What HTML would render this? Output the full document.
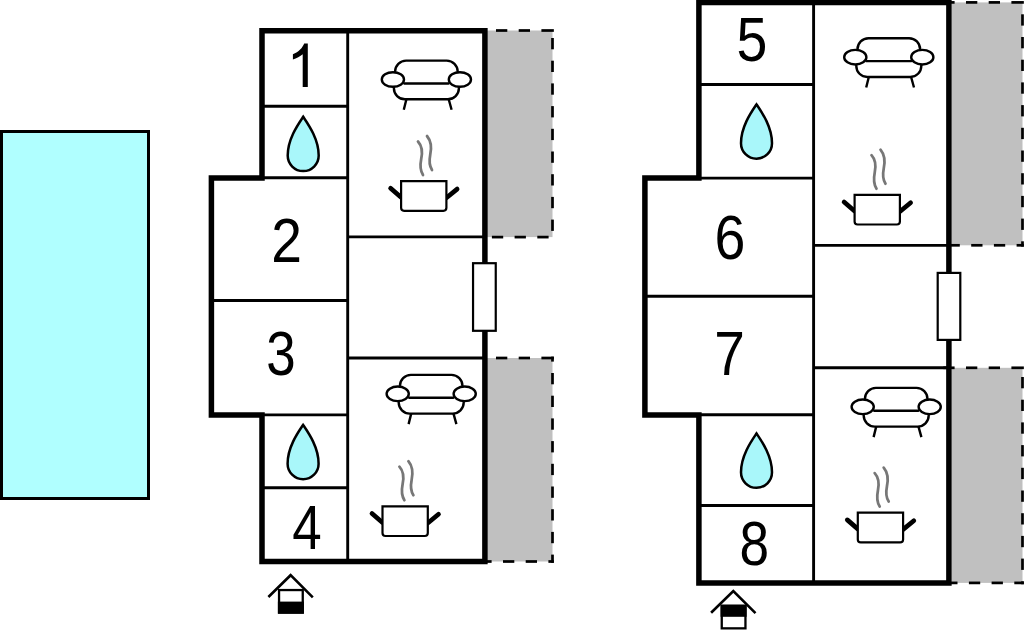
<!DOCTYPE html>
<html><head><meta charset="utf-8"><style>
html,body{margin:0;padding:0;background:#fff;width:1024px;height:630px;overflow:hidden}
svg{display:block}
</style></head><body>
<svg width="1024" height="630" viewBox="0 0 1024 630">
<rect width="1024" height="630" fill="#fff"/>
<rect x="1.5" y="131.5" width="147" height="367" fill="#B0FFFF" stroke="#000" stroke-width="3"/>
<rect x="487" y="30.5" width="65.5" height="206.6" fill="#C0C0C0"/><rect x="496.00" y="29.15" width="11.30" height="2.7" fill="#000"/><rect x="518.70" y="29.15" width="11.30" height="2.7" fill="#000"/><rect x="541.40" y="29.15" width="12.45" height="2.7" fill="#000"/><rect x="491.90" y="235.75" width="11.30" height="2.7" fill="#000"/><rect x="514.60" y="235.75" width="11.30" height="2.7" fill="#000"/><rect x="537.30" y="235.75" width="11.30" height="2.7" fill="#000"/><rect x="551.15" y="38.00" width="2.7" height="11.30" fill="#000"/><rect x="551.15" y="60.70" width="2.7" height="11.30" fill="#000"/><rect x="551.15" y="83.40" width="2.7" height="11.30" fill="#000"/><rect x="551.15" y="106.10" width="2.7" height="11.30" fill="#000"/><rect x="551.15" y="128.80" width="2.7" height="11.30" fill="#000"/><rect x="551.15" y="151.50" width="2.7" height="11.30" fill="#000"/><rect x="551.15" y="174.20" width="2.7" height="11.30" fill="#000"/><rect x="551.15" y="196.90" width="2.7" height="11.30" fill="#000"/><rect x="551.15" y="219.60" width="2.7" height="11.30" fill="#000"/>
<rect x="487" y="358" width="65.5" height="203.5" fill="#C0C0C0"/><rect x="496.00" y="356.65" width="11.30" height="2.7" fill="#000"/><rect x="518.70" y="356.65" width="11.30" height="2.7" fill="#000"/><rect x="541.40" y="356.65" width="12.45" height="2.7" fill="#000"/><rect x="480.30" y="560.15" width="11.30" height="2.7" fill="#000"/><rect x="503.00" y="560.15" width="11.30" height="2.7" fill="#000"/><rect x="525.70" y="560.15" width="11.30" height="2.7" fill="#000"/><rect x="548.40" y="560.15" width="5.45" height="2.7" fill="#000"/><rect x="551.15" y="356.65" width="2.7" height="4.95" fill="#000"/><rect x="551.15" y="373.00" width="2.7" height="11.30" fill="#000"/><rect x="551.15" y="395.70" width="2.7" height="11.30" fill="#000"/><rect x="551.15" y="418.40" width="2.7" height="11.30" fill="#000"/><rect x="551.15" y="441.10" width="2.7" height="11.30" fill="#000"/><rect x="551.15" y="463.80" width="2.7" height="11.30" fill="#000"/><rect x="551.15" y="486.50" width="2.7" height="11.30" fill="#000"/><rect x="551.15" y="509.20" width="2.7" height="11.30" fill="#000"/><rect x="551.15" y="531.90" width="2.7" height="11.30" fill="#000"/><rect x="551.15" y="554.60" width="2.7" height="8.25" fill="#000"/>
<g stroke="#000" stroke-width="2.9" fill="none">
<path d="M347.7,30 V561"/>
<path d="M262,106.3 H347.7"/>
<path d="M262,177.8 H347.7"/>
<path d="M262,414.9 H347.7"/>
<path d="M262,487.8 H347.7"/>
<path d="M211.4,300.5 H347.7"/>
<path d="M347.7,236.9 H485"/>
<path d="M347.7,358 H485"/>
</g>
<path d="M262,30.7 H484.9 V561.5 H262 V414.9 H211.4 V177.9 H262 Z" fill="none" stroke="#000" stroke-width="5.5" stroke-linejoin="miter"/>
<rect x="473.05" y="263.2" width="22.7" height="67.6" fill="#fff" stroke="#000" stroke-width="2.2"/>
<rect x="951.6" y="2.4" width="70.89999999999998" height="242.9" fill="#C0C0C0"/><rect x="943.30" y="1.05" width="11.30" height="2.7" fill="#000"/><rect x="966.00" y="1.05" width="11.30" height="2.7" fill="#000"/><rect x="988.70" y="1.05" width="11.30" height="2.7" fill="#000"/><rect x="1011.40" y="1.05" width="12.45" height="2.7" fill="#000"/><rect x="948.50" y="243.95" width="11.30" height="2.7" fill="#000"/><rect x="971.20" y="243.95" width="11.30" height="2.7" fill="#000"/><rect x="993.90" y="243.95" width="11.30" height="2.7" fill="#000"/><rect x="1016.60" y="243.95" width="7.25" height="2.7" fill="#000"/><rect x="1021.15" y="14.30" width="2.7" height="11.30" fill="#000"/><rect x="1021.15" y="37.00" width="2.7" height="11.30" fill="#000"/><rect x="1021.15" y="59.70" width="2.7" height="11.30" fill="#000"/><rect x="1021.15" y="82.40" width="2.7" height="11.30" fill="#000"/><rect x="1021.15" y="105.10" width="2.7" height="11.30" fill="#000"/><rect x="1021.15" y="127.80" width="2.7" height="11.30" fill="#000"/><rect x="1021.15" y="150.50" width="2.7" height="11.30" fill="#000"/><rect x="1021.15" y="173.20" width="2.7" height="11.30" fill="#000"/><rect x="1021.15" y="195.90" width="2.7" height="11.30" fill="#000"/><rect x="1021.15" y="218.60" width="2.7" height="11.30" fill="#000"/><rect x="1021.15" y="241.30" width="2.7" height="5.35" fill="#000"/>
<rect x="951.6" y="367.8" width="70.89999999999998" height="215.09999999999997" fill="#C0C0C0"/><rect x="943.30" y="366.45" width="11.30" height="2.7" fill="#000"/><rect x="966.00" y="366.45" width="11.30" height="2.7" fill="#000"/><rect x="988.70" y="366.45" width="11.30" height="2.7" fill="#000"/><rect x="1011.40" y="366.45" width="12.45" height="2.7" fill="#000"/><rect x="946.20" y="581.55" width="11.30" height="2.7" fill="#000"/><rect x="968.90" y="581.55" width="11.30" height="2.7" fill="#000"/><rect x="991.60" y="581.55" width="11.30" height="2.7" fill="#000"/><rect x="1014.30" y="581.55" width="9.55" height="2.7" fill="#000"/><rect x="1021.15" y="377.00" width="2.7" height="11.30" fill="#000"/><rect x="1021.15" y="399.70" width="2.7" height="11.30" fill="#000"/><rect x="1021.15" y="422.40" width="2.7" height="11.30" fill="#000"/><rect x="1021.15" y="445.10" width="2.7" height="11.30" fill="#000"/><rect x="1021.15" y="467.80" width="2.7" height="11.30" fill="#000"/><rect x="1021.15" y="490.50" width="2.7" height="11.30" fill="#000"/><rect x="1021.15" y="513.20" width="2.7" height="11.30" fill="#000"/><rect x="1021.15" y="535.90" width="2.7" height="11.30" fill="#000"/><rect x="1021.15" y="558.60" width="2.7" height="11.30" fill="#000"/><rect x="1021.15" y="581.30" width="2.7" height="2.95" fill="#000"/>
<g stroke="#000" stroke-width="2.9" fill="none">
<path d="M813.6,2 V582"/>
<path d="M699,84.5 H813.6"/>
<path d="M699,178.1 H813.6"/>
<path d="M699,414.7 H813.6"/>
<path d="M699,505.5 H813.6"/>
<path d="M644.9,296.3 H813.6"/>
<path d="M813.6,245.4 H948.9"/>
<path d="M813.6,367.8 H948.9"/>
</g>
<path d="M698.9,2.5 H948.9 V582.9 H698.9 V414.9 H644.9 V177.9 H698.9 Z" fill="none" stroke="#000" stroke-width="5.5" stroke-linejoin="miter"/>
<rect x="937.7" y="272.9" width="22.6" height="67" fill="#fff" stroke="#000" stroke-width="2.2"/>
<g fill="none" stroke="#000" stroke-width="2.4" stroke-linecap="round"><path d="M395.10,73.50 V71.60 A11,11 0 0 1 406.10,60.60 H446.70 A11,11 0 0 1 457.70,71.60 V73.50"/><path d="M393.90,85.50 V88.30 A11,11 0 0 0 404.90,99.30 H447.90 A11,11 0 0 0 458.90,88.30 V85.50"/><path d="M404.40,83.50 H448.40"/><path d="M406.40,99.30 L403.80,109.80 M448.70,99.30 L451.60,109.80" stroke-linecap="butt"/><ellipse cx="392.90" cy="79.50" rx="11.1" ry="7.3" fill="#fff"/><ellipse cx="459.90" cy="79.50" rx="11.1" ry="7.3" fill="#fff"/></g>
<g fill="none" stroke="#000" stroke-width="2.4" stroke-linecap="round"><path d="M399.90,387.80 V385.90 A11,11 0 0 1 410.90,374.90 H451.50 A11,11 0 0 1 462.50,385.90 V387.80"/><path d="M398.70,399.80 V402.60 A11,11 0 0 0 409.70,413.60 H452.70 A11,11 0 0 0 463.70,402.60 V399.80"/><path d="M409.20,397.80 H453.20"/><path d="M411.20,413.60 L408.60,424.10 M453.50,413.60 L456.40,424.10" stroke-linecap="butt"/><ellipse cx="397.70" cy="393.80" rx="11.1" ry="7.3" fill="#fff"/><ellipse cx="464.70" cy="393.80" rx="11.1" ry="7.3" fill="#fff"/></g>
<g fill="none" stroke="#000" stroke-width="2.4" stroke-linecap="round"><path d="M857.50,51.15 V49.25 A11,11 0 0 1 868.50,38.25 H909.10 A11,11 0 0 1 920.10,49.25 V51.15"/><path d="M856.30,63.15 V65.95 A11,11 0 0 0 867.30,76.95 H910.30 A11,11 0 0 0 921.30,65.95 V63.15"/><path d="M866.80,61.15 H910.80"/><path d="M868.80,76.95 L866.20,87.45 M911.10,76.95 L914.00,87.45" stroke-linecap="butt"/><ellipse cx="855.30" cy="57.15" rx="11.1" ry="7.3" fill="#fff"/><ellipse cx="922.30" cy="57.15" rx="11.1" ry="7.3" fill="#fff"/></g>
<g fill="none" stroke="#000" stroke-width="2.4" stroke-linecap="round"><path d="M864.90,400.80 V398.90 A11,11 0 0 1 875.90,387.90 H916.50 A11,11 0 0 1 927.50,398.90 V400.80"/><path d="M863.70,412.80 V415.60 A11,11 0 0 0 874.70,426.60 H917.70 A11,11 0 0 0 928.70,415.60 V412.80"/><path d="M874.20,410.80 H918.20"/><path d="M876.20,426.60 L873.60,437.10 M918.50,426.60 L921.40,437.10" stroke-linecap="butt"/><ellipse cx="862.70" cy="406.80" rx="11.1" ry="7.3" fill="#fff"/><ellipse cx="929.70" cy="406.80" rx="11.1" ry="7.3" fill="#fff"/></g>
<g transform="translate(400.00,180.00)"><path d="M18,-38.5 C23,-33 22.5,-27 21.2,-21 C20,-15 20.5,-9 23,-5 M27,-44 C32,-38 31.5,-31 30.2,-25 C29,-19 29.5,-14 32,-10" fill="none" stroke="#777" stroke-width="2.75" stroke-linecap="round"/><path d="M-9.4,8.3 L1,17.3 M57.1,9.1 L46.5,17.8" stroke="#000" stroke-width="4.7" stroke-linecap="round"/><path d="M1.1,1.1 H46.4 V27.8 A3,3 0 0 1 43.4,30.8 H4.1 A3,3 0 0 1 1.1,27.8 Z" fill="#fff" stroke="#000" stroke-width="2.2"/></g>
<g transform="translate(381.40,505.20)"><path d="M18,-38.5 C23,-33 22.5,-27 21.2,-21 C20,-15 20.5,-9 23,-5 M27,-44 C32,-38 31.5,-31 30.2,-25 C29,-19 29.5,-14 32,-10" fill="none" stroke="#777" stroke-width="2.75" stroke-linecap="round"/><path d="M-9.4,8.3 L1,17.3 M57.1,9.1 L46.5,17.8" stroke="#000" stroke-width="4.7" stroke-linecap="round"/><path d="M1.1,1.1 H46.4 V27.8 A3,3 0 0 1 43.4,30.8 H4.1 A3,3 0 0 1 1.1,27.8 Z" fill="#fff" stroke="#000" stroke-width="2.2"/></g>
<g transform="translate(853.50,193.70)"><path d="M18,-38.5 C23,-33 22.5,-27 21.2,-21 C20,-15 20.5,-9 23,-5 M27,-44 C32,-38 31.5,-31 30.2,-25 C29,-19 29.5,-14 32,-10" fill="none" stroke="#777" stroke-width="2.75" stroke-linecap="round"/><path d="M-9.4,8.3 L1,17.3 M57.1,9.1 L46.5,17.8" stroke="#000" stroke-width="4.7" stroke-linecap="round"/><path d="M1.1,1.1 H46.4 V27.8 A3,3 0 0 1 43.4,30.8 H4.1 A3,3 0 0 1 1.1,27.8 Z" fill="#fff" stroke="#000" stroke-width="2.2"/></g>
<g transform="translate(856.70,511.60)"><path d="M18,-38.5 C23,-33 22.5,-27 21.2,-21 C20,-15 20.5,-9 23,-5 M27,-44 C32,-38 31.5,-31 30.2,-25 C29,-19 29.5,-14 32,-10" fill="none" stroke="#777" stroke-width="2.75" stroke-linecap="round"/><path d="M-9.4,8.3 L1,17.3 M57.1,9.1 L46.5,17.8" stroke="#000" stroke-width="4.7" stroke-linecap="round"/><path d="M1.1,1.1 H46.4 V27.8 A3,3 0 0 1 43.4,30.8 H4.1 A3,3 0 0 1 1.1,27.8 Z" fill="#fff" stroke="#000" stroke-width="2.2"/></g>
<g transform="translate(303.20,115.00)"><path d="M0,1.8 C5,9.2 15.5,24 15.5,40.6 A15.5,15.5 0 0 1 -15.5,40.6 C-15.5,24 -5,9.2 0,1.8 Z" fill="#A9F7FA" stroke="#000" stroke-width="2.5" stroke-linejoin="miter"/></g>
<g transform="translate(303.10,423.10)"><path d="M0,1.8 C5,9.2 15.5,24 15.5,40.6 A15.5,15.5 0 0 1 -15.5,40.6 C-15.5,24 -5,9.2 0,1.8 Z" fill="#A9F7FA" stroke="#000" stroke-width="2.5" stroke-linejoin="miter"/></g>
<g transform="translate(756.50,102.60)"><path d="M0,1.8 C5,9.2 15.5,24 15.5,40.6 A15.5,15.5 0 0 1 -15.5,40.6 C-15.5,24 -5,9.2 0,1.8 Z" fill="#A9F7FA" stroke="#000" stroke-width="2.5" stroke-linejoin="miter"/></g>
<g transform="translate(756.50,431.70)"><path d="M0,1.8 C5,9.2 15.5,24 15.5,40.6 A15.5,15.5 0 0 1 -15.5,40.6 C-15.5,24 -5,9.2 0,1.8 Z" fill="#A9F7FA" stroke="#000" stroke-width="2.5" stroke-linejoin="miter"/></g>
<g transform="translate(290.60,574.00)"><path d="M-22.2,23 L0,1.2 L22.2,23.3" fill="none" stroke="#000" stroke-width="2.6"/><rect x="-11.55" y="16.05" width="23.7" height="22.5" fill="#fff" stroke="#000" stroke-width="2.3"/><rect x="-12.7" y="27.6" width="26" height="12.1" fill="#000"/></g>
<g transform="translate(733.30,589.80)"><path d="M-22.2,23 L0,1.2 L22.2,23.3" fill="none" stroke="#000" stroke-width="2.6"/><rect x="-11.55" y="16.05" width="23.7" height="22.5" fill="#fff" stroke="#000" stroke-width="2.3"/><rect x="-12.7" y="14.9" width="26" height="12.1" fill="#000"/></g>
<g font-family="Liberation Sans" fill="#000">
<text transform="translate(271.23,262.35) scale(0.8720,1)" x="0" y="0" font-size="63.3">2</text>
<text transform="translate(266.15,375.10) scale(0.8397,1)" x="0" y="0" font-size="63.0">3</text>
<text transform="translate(292.15,548.55) scale(0.8357,1)" x="0" y="0" font-size="63.3">4</text>
<text transform="translate(736.55,61.00) scale(0.8810,1)" x="0" y="0" font-size="63.0">5</text>
<text transform="translate(714.61,258.50) scale(0.8838,1)" x="0" y="0" font-size="62.8">6</text>
<text transform="translate(714.24,374.50) scale(0.8689,1)" x="0" y="0" font-size="63.3">7</text>
<text transform="translate(739.55,564.90) scale(0.8458,1)" x="0" y="0" font-size="62.9">8</text>
</g>
<path d="M302.7,86.9 H307.8 V43.4 H304.2 C302.6,47.6 298.8,51.8 292.9,54.2 V59.6 C296.6,58.2 300.2,56.2 302.7,54.2 Z" fill="#000"/>
</svg></body></html>
